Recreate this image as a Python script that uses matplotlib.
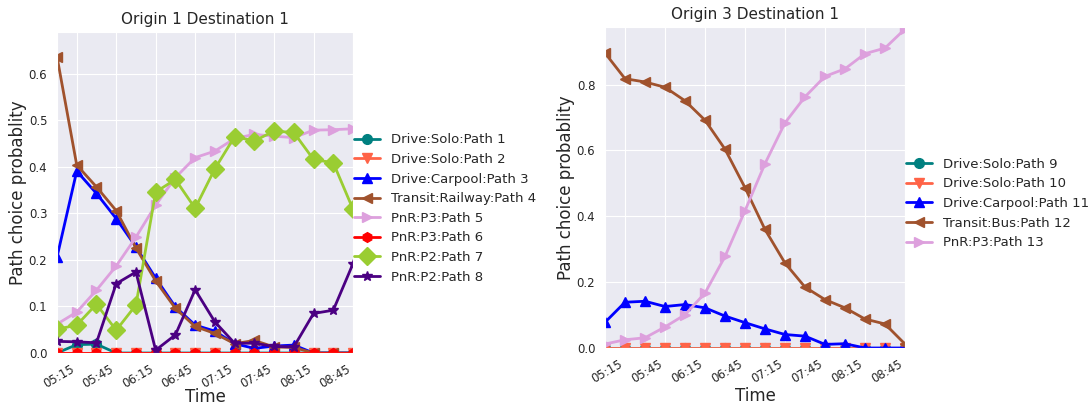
import numpy as np
import matplotlib
matplotlib.use('Agg')
import matplotlib.pyplot as plt
import seaborn as sns

sns.set_style("darkgrid")
plt.rcParams['font.family'] = ['DejaVu Sans']

# time steps (15 min), ticks labelled every 30 min
times = ['05:00', '05:15', '05:30', '05:45', '06:00', '06:15', '06:30', '06:45',
         '07:00', '07:15', '07:30', '07:45', '08:00', '08:15', '08:30', '08:45']
tick_labels = times[1::2]

# Origin 1 Destination 1
labels1 = ['Drive:Solo:Path 1', 'Drive:Solo:Path 2', 'Drive:Carpool:Path 3',
           'Transit:Railway:Path 4', 'PnR:P3:Path 5', 'PnR:P3:Path 6',
           'PnR:P2:Path 7', 'PnR:P2:Path 8']
path1 = [0, 0.018, 0.019, 0, 0, 0, 0, 0, 0, 0, 0, 0, 0, 0, 0, 0]
path2 = [0] * 16
path3 = [0.206, 0.391, 0.343, 0.289, 0.228, 0.161, 0.099, 0.06, 0.047, 0.02,
         0.01, 0.015, 0.017, 0, 0, 0]
path4 = [0.637, 0.404, 0.357, 0.306, 0.226, 0.155, 0.096, 0.057, 0.042, 0.02,
         0.027, 0.013, 0.012, 0, 0, 0]
path5 = [0.062, 0.088, 0.135, 0.187, 0.249, 0.318, 0.377, 0.42, 0.434, 0.461,
         0.47, 0.466, 0.463, 0.479, 0.48, 0.482]
path6 = [0] * 16
path7 = [0.051, 0.06, 0.105, 0.049, 0.103, 0.346, 0.373, 0.311, 0.396, 0.465,
         0.456, 0.477, 0.474, 0.416, 0.409, 0.309]
path8 = [0.025, 0.024, 0.022, 0.149, 0.174, 0.006, 0.039, 0.136, 0.067, 0.021,
         0.021, 0.014, 0.013, 0.085, 0.092, 0.192]

# Origin 3 Destination 1
labels2 = ['Drive:Solo:Path 9', 'Drive:Solo:Path 10', 'Drive:Carpool:Path 11',
           'Transit:Bus:Path 12', 'PnR:P3:Path 13']
path9 = [0] * 16
path10 = [0] * 16
path11 = [0.078, 0.139, 0.142, 0.126, 0.132, 0.122, 0.097, 0.077, 0.058, 0.041,
          0.036, 0.011, 0.013, 0, 0, 0]
path12 = [0.896, 0.818, 0.808, 0.792, 0.751, 0.692, 0.604, 0.487, 0.36, 0.258,
          0.185, 0.147, 0.122, 0.088, 0.073, 0.012]
path13 = [0.012, 0.025, 0.031, 0.064, 0.101, 0.167, 0.278, 0.417, 0.56, 0.684,
          0.763, 0.825, 0.848, 0.894, 0.911, 0.969]

colors = ['teal', 'tomato', 'blue', 'sienna', 'plum', 'red', 'yellowgreen', 'indigo']
markers = ['o', 'v', '^', '<', '>', 'h', 'D', '*']

fig = plt.figure(figsize=(10.92, 4.05), dpi=100)
ax1 = fig.add_axes([57 / 1092, 52 / 405, 296 / 1092, 321 / 405])
ax2 = fig.add_axes([605 / 1092, 57 / 405, 300 / 1092, 321 / 405])

x = np.arange(len(times))


def draw(ax, series, labels, title, ytop, xpad):
    for i, (s, lab) in enumerate(zip(series, labels)):
        ax.plot(x, s, color=colors[i], marker=markers[i], lw=2,
                ms=9 if markers[i] == 'D' else 7, label=lab)
    ax.set_xlim(0, len(times) - 1)
    ax.set_ylim(0, ytop)
    ax.set_xticks(x[1::2])
    ax.set_xticklabels(tick_labels, rotation=30, ha='right', fontsize=8.5)
    ax.tick_params(axis='y', labelsize=8.5)
    ax.set_title(title, fontsize=11)
    ax.set_xlabel('Time', fontsize=12, labelpad=xpad)
    ax.set_ylabel('Path choice probablity', fontsize=12, labelpad=1.5)
    ax.legend(loc='center left', bbox_to_anchor=(0.985, 0.45), fontsize=9.5,
              frameon=False, handlelength=2, borderaxespad=0)


draw(ax1, [path1, path2, path3, path4, path5, path6, path7, path8], labels1,
     'Origin 1 Destination 1', 0.69, -2)
draw(ax2, [path9, path10, path11, path12, path13], labels2,
     'Origin 3 Destination 1', 0.975, 1)

fig.savefig('out.png', dpi=100)
